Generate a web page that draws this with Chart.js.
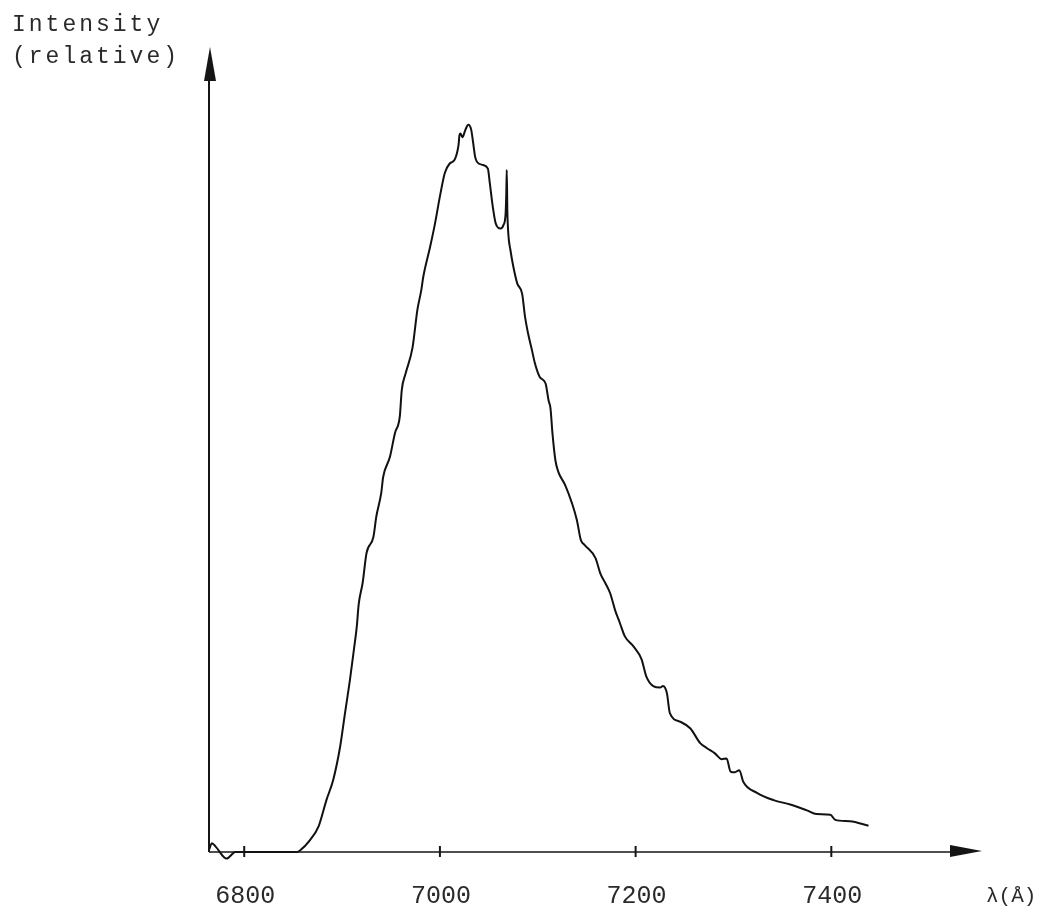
<!DOCTYPE html>
<html>
<head>
<meta charset="utf-8">
<title>Emission spectrum</title>
<script src="https://cdn.jsdelivr.net/npm/chart.js@4.4.1/dist/chart.umd.min.js"></script>
<style>
  html, body { margin: 0; padding: 0; background: #ffffff; }
  #wrap { width: 1049px; height: 908px; }
</style>
</head>
<body>
<div id="wrap"><canvas id="spec" width="1049" height="908"></canvas></div>
<script>
// Wavelength samples (Å) along the recorded trace
const wavelength = [
  6764, 6767, 6771, 6782, 6791, 6800, 6854, 6857, 6867, 6876,
  6884, 6891, 6898, 6903, 6908, 6912, 6915, 6917, 6921, 6925,
  6932, 6935, 6940, 6942, 6949, 6954, 6959, 6961, 6965, 6972,
  6977, 6981, 6983, 6990, 6995, 7000, 7005, 7010, 7015, 7019,
  7020, 7021, 7023, 7026, 7029, 7032, 7034, 7036, 7038, 7044,
  7049, 7051, 7054, 7057, 7062, 7065, 7067, 7067.8, 7068.3, 7068.9,
  7070, 7072, 7075, 7079, 7084, 7087, 7090, 7094, 7097, 7102,
  7108, 7111, 7113, 7115, 7118, 7121, 7128, 7135, 7140, 7144,
  7148, 7159, 7164, 7169, 7174, 7179, 7184, 7189, 7198, 7206,
  7211, 7218, 7225, 7228, 7232, 7235, 7246, 7256, 7266, 7273,
  7281, 7288, 7293, 7297, 7301, 7306, 7310, 7324, 7341, 7358,
  7375, 7385, 7399, 7404, 7419, 7438
];

// Relative intensity at each wavelength sample
const intensity = [
  0.3, 1.2, 0.7, -0.9, 0.0, 0.0, 0.0, 0.2, 1.6, 3.5,
  7.1, 9.9, 14.4, 19.0, 23.5, 27.6, 30.8, 33.9, 36.8, 40.9,
  43.1, 45.9, 49.1, 51.3, 54.1, 57.3, 59.6, 63.2, 65.5, 69.0,
  74.2, 76.9, 78.7, 82.8, 86.0, 89.7, 92.9, 94.2, 94.7, 96.7,
  98.1, 98.3, 97.8, 98.8, 99.5, 98.8, 97.0, 95.1, 94.4, 94.0,
  93.5, 91.5, 88.3, 86.0, 85.3, 85.8, 87.1, 89.9, 93.3, 87.8,
  84.4, 82.4, 80.1, 77.8, 76.4, 73.2, 71.0, 68.7, 66.9, 65.0,
  64.1, 61.8, 60.7, 57.3, 53.6, 52.0, 50.2, 47.7, 45.4, 42.7,
  42.0, 40.2, 38.1, 36.8, 35.4, 33.1, 31.3, 29.5, 28.1, 26.4,
  24.0, 22.7, 22.5, 22.7, 21.7, 19.0, 17.8, 16.9, 14.9, 14.2,
  13.5, 12.7, 12.8, 11.0, 10.9, 11.2, 9.6, 8.1, 7.1, 6.5,
  5.7, 5.2, 5.1, 4.4, 4.2, 3.6
];

// Labelled wavelength ticks
const xTickValues = [6800, 7000, 7200, 7400];
const xTickLabels = ['6800', '7000', '7200', '7400'];

// Axis extents
const xRange = [6764, 7554];
const yRange = [0, 110];

const yTitle = ['Intensity', '(relative)'];
const xTitle = 'λ(Å)';

const points = wavelength.map((w, i) => ({ x: w, y: intensity[i] }));

// Hand-drawn style axes: arrowed lines, crossing tick marks and typed labels
const arrowAxes = {
  id: 'arrowAxes',
  afterDatasetsDraw(chart) {
    const ctx = chart.ctx;
    const xs = chart.scales.x;
    const ys = chart.scales.y;
    const x0 = xs.getPixelForValue(xRange[0]);
    const x1 = xs.getPixelForValue(xRange[1]);
    const y0 = ys.getPixelForValue(0);
    const yTop = ys.getPixelForValue(yRange[1]);
    const ink = '#151515';

    ctx.save();
    ctx.strokeStyle = ink;
    ctx.fillStyle = ink;
    ctx.lineCap = 'butt';

    // vertical axis
    ctx.lineWidth = 2;
    ctx.beginPath();
    ctx.moveTo(x0, y0);
    ctx.lineTo(x0, yTop + 20);
    ctx.stroke();
    ctx.beginPath();
    ctx.moveTo(x0 + 1, yTop - 1);
    ctx.lineTo(x0 - 5, yTop + 33);
    ctx.lineTo(x0 + 7, yTop + 33);
    ctx.closePath();
    ctx.fill();

    // horizontal axis
    ctx.lineWidth = 1.6;
    ctx.beginPath();
    ctx.moveTo(x0, y0);
    ctx.lineTo(x1 - 20, y0);
    ctx.stroke();
    ctx.beginPath();
    ctx.moveTo(x1, y0 - 1);
    ctx.lineTo(x1 - 32, y0 - 7);
    ctx.lineTo(x1 - 32, y0 + 5);
    ctx.closePath();
    ctx.fill();

    // tick marks and labels
    ctx.lineWidth = 2;
    ctx.font = '25px "Liberation Mono", "DejaVu Sans Mono", monospace';
    ctx.textAlign = 'center';
    ctx.textBaseline = 'alphabetic';
    ctx.fillStyle = '#2a2a2a';
    xTickValues.forEach((v, i) => {
      const px = xs.getPixelForValue(v);
      ctx.beginPath();
      ctx.moveTo(px, y0 - 6);
      ctx.lineTo(px, y0 + 5);
      ctx.stroke();
      ctx.fillText(xTickLabels[i], px + 1, 903);
    });

    // axis titles
    ctx.textAlign = 'left';
    ctx.font = '21px "Liberation Mono", "DejaVu Sans Mono", monospace';
    ctx.fillText(xTitle, 986, 902);

    ctx.font = '23px "Liberation Mono", "DejaVu Sans Mono", monospace';
    ctx.letterSpacing = '3px';
    ctx.fillText(yTitle[0], 12, 31);
    ctx.fillText(yTitle[1], 12, 63);
    ctx.letterSpacing = '0px';
    ctx.restore();
  }
};

new Chart(document.getElementById('spec'), {
  type: 'scatter',
  data: {
    datasets: [{
      data: points,
      showLine: true,
      borderColor: '#111111',
      borderWidth: 2,
      pointRadius: 0,
      cubicInterpolationMode: 'monotone',
      clip: false
    }]
  },
  options: {
    responsive: false,
    animation: false,
    devicePixelRatio: 1,
    layout: { padding: { left: 209, right: 67, top: 48, bottom: 56 } },
    scales: {
      x: { type: 'linear', min: xRange[0], max: xRange[1], display: false },
      y: { type: 'linear', min: yRange[0], max: yRange[1], display: false }
    },
    plugins: {
      legend: { display: false },
      tooltip: { enabled: false }
    }
  },
  plugins: [arrowAxes]
});
</script>
</body>
</html>
